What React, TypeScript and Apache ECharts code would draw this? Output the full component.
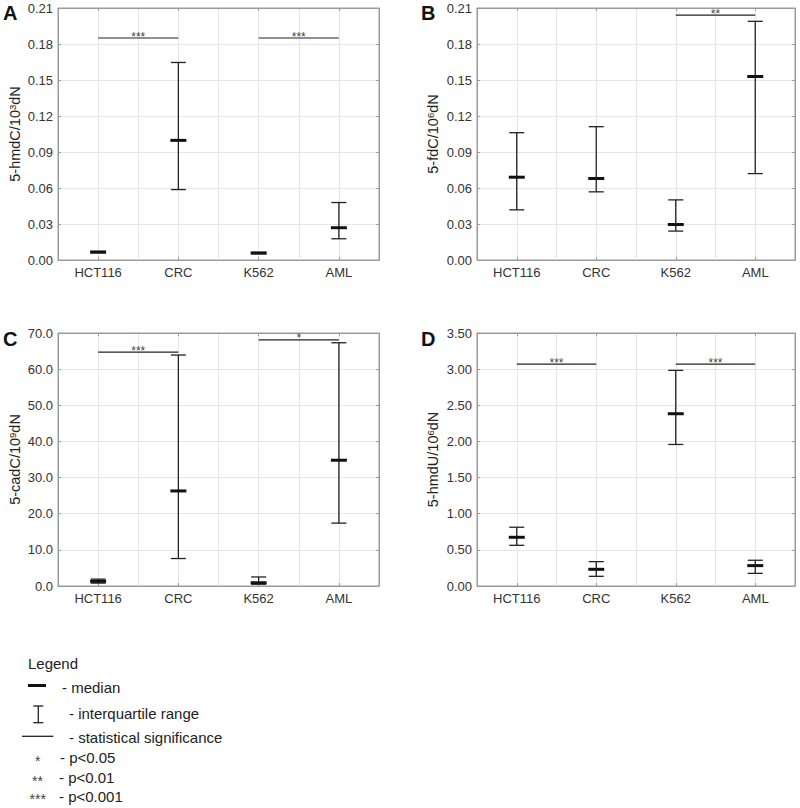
import React, { useEffect, useRef } from "react";
import * as echarts from "echarts";

const categories = ["HCT116", "CRC", "K562", "AML"];

// Panel A: 5-hmdC/10^3 dN
const q1A = [0.006, 0.0587, 0.0052, 0.0177];
const medA = [0.0066, 0.0997, 0.0058, 0.0269];
const q3A = [0.0072, 0.1646, 0.0064, 0.0479];
const sigA = [
  { from: 0, to: 1, y: 0.185, stars: "***" },
  { from: 2, to: 3, y: 0.185, stars: "***" },
];

// Panel B: 5-fdC/10^6 dN
const q1B = [0.0418, 0.0568, 0.0241, 0.072];
const medB = [0.069, 0.0679, 0.0296, 0.1529];
const q3B = [0.1061, 0.1111, 0.0501, 0.1989];
const sigB = [{ from: 2, to: 3, y: 0.204, stars: "**" }];

// Panel C: 5-cadC/10^9 dN
const q1C = [0.8, 7.6, 0.5, 17.4];
const medC = [1.3, 26.3, 0.9, 34.8];
const q3C = [1.9, 63.9, 2.5, 67.3];
const sigC = [
  { from: 0, to: 1, y: 64.7, stars: "***" },
  { from: 2, to: 3, y: 68.1, stars: "*" },
];

// Panel D: 5-hmdU/10^6 dN
const q1D = [0.563, 0.134, 1.958, 0.175];
const medD = [0.674, 0.231, 2.383, 0.282];
const q3D = [0.813, 0.337, 2.983, 0.356];
const sigD = [
  { from: 0, to: 1, y: 3.07, stars: "***" },
  { from: 2, to: 3, y: 3.07, stars: "***" },
];

const FONT = "'Liberation Sans', Arial, Helvetica, sans-serif";

type Panel = {
  letter: string;
  nameMain: string;
  exp: string;
  q1: number[];
  med: number[];
  q3: number[];
  sig: { from: number; to: number; y: number; stars: string }[];
  max: number;
  interval: number;
  decimals: number;
  grid: { left: number; top: number; width: number; height: number };
  nameGap: number;
  letterPos: [number, number];
};

const panels: Panel[] = [
  {
    letter: "A", nameMain: "5-hmdC/10", exp: "3", q1: q1A, med: medA, q3: q3A, sig: sigA,
    max: 0.21, interval: 0.03, decimals: 2,
    grid: { left: 58, top: 8, width: 321, height: 252 }, nameGap: 36, letterPos: [3, 3],
  },
  {
    letter: "B", nameMain: "5-fdC/10", exp: "6", q1: q1B, med: medB, q3: q3B, sig: sigB,
    max: 0.21, interval: 0.03, decimals: 2,
    grid: { left: 477, top: 8, width: 318, height: 252 }, nameGap: 37, letterPos: [421, 3],
  },
  {
    letter: "C", nameMain: "5-cadC/10", exp: "9", q1: q1C, med: medC, q3: q3C, sig: sigC,
    max: 70, interval: 10, decimals: 1,
    grid: { left: 58, top: 333, width: 321, height: 253 }, nameGap: 36, letterPos: [3, 329],
  },
  {
    letter: "D", nameMain: "5-hmdU/10", exp: "6", q1: q1D, med: medD, q3: q3D, sig: sigD,
    max: 3.5, interval: 0.5, decimals: 2,
    grid: { left: 477, top: 333, width: 318, height: 253 }, nameGap: 37, letterPos: [421, 329],
  },
];

const LINE = "#222";

function buildOption() {
  const grids: any[] = [];
  const xAxes: any[] = [];
  const yAxes: any[] = [];
  const series: any[] = [];
  const graphics: any[] = [];

  panels.forEach((p, pi) => {
    grids.push({
      ...p.grid,
      show: true,
      borderColor: "#9a9a9a",
      borderWidth: 1,
      backgroundColor: "transparent",
    });
    // bottom category axis (labels + ticks)
    xAxes.push({
      type: "category",
      gridIndex: pi,
      position: "bottom",
      data: categories,
      boundaryGap: true,
      axisLine: { show: true, lineStyle: { color: "#9a9a9a" } },
      axisTick: { show: true, inside: true, alignWithLabel: true, length: 3, lineStyle: { color: "#9a9a9a" } },
      axisLabel: { margin: 6, fontSize: 13, color: "#333", fontFamily: FONT },
      splitLine: { show: false },
    });
    // hidden value axis for gridlines at half bands
    xAxes.push({
      type: "value",
      gridIndex: pi,
      min: 0,
      max: 8,
      interval: 1,
      show: true,
      axisLine: { show: false },
      axisTick: { show: false },
      axisLabel: { show: false },
      splitLine: { show: true, lineStyle: { color: "#e6e6e6", width: 1 } },
    });
    // top category axis (ticks)
    xAxes.push({
      type: "category",
      gridIndex: pi,
      position: "top",
      data: categories,
      boundaryGap: true,
      axisLine: { show: true, lineStyle: { color: "#9a9a9a" } },
      axisTick: { show: true, inside: true, alignWithLabel: true, length: 3, lineStyle: { color: "#9a9a9a" } },
      axisLabel: { show: false },
      splitLine: { show: false },
    });
    yAxes.push({
      type: "value",
      gridIndex: pi,
      position: "left",
      min: 0,
      max: p.max,
      interval: p.interval,
      name: `${p.nameMain}{s|${p.exp}}dN`,
      nameLocation: "middle",
      nameGap: p.nameGap,
      nameRotate: 90,
      nameTextStyle: {
        fontSize: 14.5,
        color: "#222",
        fontFamily: FONT,
        rich: { s: { fontSize: 9.5, verticalAlign: "top", color: "#222", fontFamily: FONT } },
      },
      axisLine: { show: true, lineStyle: { color: "#9a9a9a" } },
      axisTick: { show: true, inside: true, length: 3, lineStyle: { color: "#9a9a9a" } },
      axisLabel: {
        margin: 5,
        fontSize: 13,
        color: "#333",
        fontFamily: FONT,
        formatter: (v: number) => v.toFixed(p.decimals),
      },
      splitLine: { show: true, lineStyle: { color: "#e6e6e6", width: 1 } },
    });
    yAxes.push({
      type: "value",
      gridIndex: pi,
      position: "right",
      min: 0,
      max: p.max,
      interval: p.interval,
      axisLine: { show: true, lineStyle: { color: "#9a9a9a" } },
      axisTick: { show: true, inside: true, length: 3, lineStyle: { color: "#9a9a9a" } },
      axisLabel: { show: false },
      splitLine: { show: false },
    });

    const boxData = categories.map((_, i) => [i, p.q1[i], p.med[i], p.q3[i]]);
    series.push({
      type: "custom",
      xAxisIndex: pi * 3,
      yAxisIndex: pi * 2,
      clip: false,
      encode: { x: 0, y: [1, 2, 3] },
      data: boxData,
      renderItem: (params: any, api: any) => {
        const i = api.value(0);
        const a = api.coord([i, api.value(1)]);
        const m = api.coord([i, api.value(2)]);
        const b = api.coord([i, api.value(3)]);
        const cap = 7.5;
        const half = 8;
        const ls = { stroke: LINE, lineWidth: 1.3 };
        return {
          type: "group",
          children: [
            { type: "line", shape: { x1: a[0], y1: a[1], x2: b[0], y2: b[1] }, style: ls },
            { type: "line", shape: { x1: a[0] - cap, y1: a[1], x2: a[0] + cap, y2: a[1] }, style: ls },
            { type: "line", shape: { x1: b[0] - cap, y1: b[1], x2: b[0] + cap, y2: b[1] }, style: ls },
            { type: "line", shape: { x1: m[0] - half, y1: m[1], x2: m[0] + half, y2: m[1] }, style: { stroke: "#111", lineWidth: 3 } },
          ],
        };
      },
      z: 5,
    });

    const sigData = p.sig.map((s) => [s.from, s.to, s.y]);
    const stars = p.sig.map((s) => s.stars);
    series.push({
      type: "custom",
      xAxisIndex: pi * 3,
      yAxisIndex: pi * 2,
      clip: false,
      encode: { x: [0, 1], y: 2 },
      data: sigData,
      renderItem: (params: any, api: any) => {
        const s = api.coord([api.value(0), api.value(2)]);
        const e = api.coord([api.value(1), api.value(2)]);
        return {
          type: "group",
          children: [
            { type: "line", shape: { x1: s[0], y1: s[1], x2: e[0], y2: e[1] }, style: { stroke: LINE, lineWidth: 1.2 } },
            {
              type: "text",
              style: {
                text: stars[params.dataIndex],
                x: (s[0] + e[0]) / 2,
                y: s[1] - 1.5,
                align: "center",
                verticalAlign: "middle",
                fontSize: 12,
                fontFamily: FONT,
                fill: "#444",
              },
            },
          ],
        };
      },
      z: 6,
    });

    graphics.push({
      type: "text",
      left: p.letterPos[0],
      top: p.letterPos[1],
      style: { text: p.letter, fontSize: 20, fontWeight: "bold", fontFamily: FONT, fill: "#111" },
    });
  });

  // Legend
  const lt = (text: string, x: number, y: number, size = 15) => ({
    type: "text",
    x,
    y,
    style: { text, fontSize: size, fontFamily: FONT, fill: "#222", verticalAlign: "middle", align: "left" },
  });
  graphics.push(lt("Legend", 28, 663));
  graphics.push({ type: "rect", shape: { x: 28, y: 684, width: 18, height: 3 }, style: { fill: "#111" } });
  graphics.push(lt("- median", 62, 687));
  graphics.push({ type: "line", shape: { x1: 38.3, y1: 706, x2: 38.3, y2: 722.7 }, style: { stroke: LINE, lineWidth: 1.3 } });
  graphics.push({ type: "line", shape: { x1: 33.3, y1: 706, x2: 43.3, y2: 706 }, style: { stroke: LINE, lineWidth: 1.3 } });
  graphics.push({ type: "line", shape: { x1: 33.3, y1: 722.7, x2: 43.3, y2: 722.7 }, style: { stroke: LINE, lineWidth: 1.3 } });
  graphics.push(lt("- interquartile range", 69, 713));
  graphics.push({ type: "line", shape: { x1: 22, y1: 736.3, x2: 53.3, y2: 736.3 }, style: { stroke: LINE, lineWidth: 1.3 } });
  graphics.push(lt("- statistical significance", 69, 737));
  const starText = (text: string, cx: number, y: number) => ({
    type: "text",
    x: cx,
    y,
    style: { text, fontSize: 14, fontFamily: FONT, fill: "#444", verticalAlign: "middle", align: "center" },
  });
  graphics.push(starText("*", 37.7, 761));
  graphics.push(lt("- p<0.05", 60, 757.7));
  graphics.push(starText("**", 37.5, 781));
  graphics.push(lt("- p<0.01", 59, 777));
  graphics.push(starText("***", 37.7, 799.3));
  graphics.push(lt("- p<0.001", 59, 796.7));

  return {
    animation: false,
    backgroundColor: "#fff",
    textStyle: { fontFamily: FONT },
    grid: grids,
    xAxis: xAxes,
    yAxis: yAxes,
    series,
    graphic: graphics,
  };
}

export default function App() {
  const ref = useRef<HTMLDivElement>(null);
  useEffect(() => {
    document.body.style.margin = "0";
    document.body.style.overflow = "hidden";
    if (!ref.current) return;
    const chart = echarts.init(ref.current, undefined, { renderer: "svg" });
    chart.setOption(buildOption() as any);
    return () => {
      chart.dispose();
    };
  }, []);
  return <div ref={ref} style={{ width: 800, height: 808 }} />;
}
